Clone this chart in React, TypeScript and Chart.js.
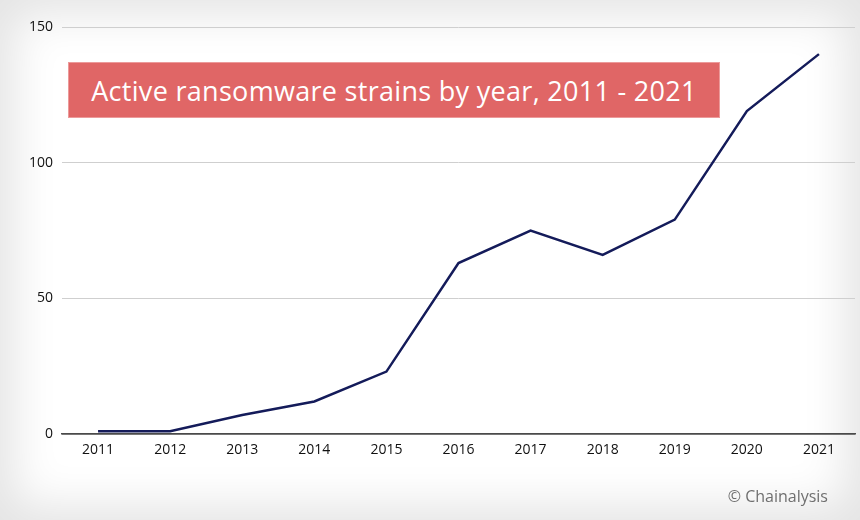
import React, { useEffect, useRef } from "react";
import { Chart, registerables } from "chart.js";

Chart.register(...registerables);

const years = ["2011", "2012", "2013", "2014", "2015", "2016", "2017", "2018", "2019", "2020", "2021"];
const activeStrains = [1, 1, 7, 12, 23, 63, 75, 66, 79, 119, 140];
const yTicks = [0, 50, 100, 150];
const titleText = "Active ransomware strains by year, 2011 - 2021";
const creditText = "© Chainalysis";

export default function App() {
  const canvasRef = useRef<HTMLCanvasElement | null>(null);

  useEffect(() => {
    document.body.style.margin = "0";
    const canvas = canvasRef.current;
    if (!canvas) return;
    const chart = new Chart(canvas, {
      type: "line",
      data: {
        labels: years,
        datasets: [
          {
            data: activeStrains,
            borderColor: "#141b5a",
            borderWidth: 2.5,
            pointRadius: 0,
            tension: 0,
            fill: false,
          },
        ],
      },
      options: {
        animation: false,
        responsive: false,
        maintainAspectRatio: false,
        layout: { padding: { top: 27, right: 5, left: 0, bottom: 0 } },
        plugins: { legend: { display: false }, tooltip: { enabled: false }, title: { display: false } },
        scales: {
          x: {
            offset: true,
            grid: { display: false, drawTicks: false },
            border: { display: true, color: "#4a4a4a", width: 1.5 },
            ticks: {
              color: "#111",
              font: { family: "'Open Sans', 'Noto Sans', sans-serif", size: 14 },
              padding: 8,
              maxRotation: 0,
            },
            afterFit: (scale: any) => {
              scale.height = 86;
            },
          },
          y: {
            min: 0,
            max: 150,
            afterBuildTicks: (scale: any) => {
              scale.ticks = yTicks.map((v) => ({ value: v }));
            },
            grid: {
              drawTicks: false,
              color: (ctx: any) => (ctx.tick && ctx.tick.value === 0 ? "#4a4a4a" : "#cfcfcf"),
              lineWidth: (ctx: any) => (ctx.tick && ctx.tick.value === 0 ? 1.5 : 1),
            },
            border: { display: false },
            ticks: {
              color: "#111",
              font: { family: "'Open Sans', 'Noto Sans', sans-serif", size: 14 },
              padding: 9,
            },
            afterFit: (scale: any) => {
              scale.width = 62;
            },
          },
        },
      },
    });
    return () => chart.destroy();
  }, []);

  return (
    <div
      style={{
        position: "relative",
        width: 860,
        height: 520,
        background: "#ffffff",
        boxShadow: "inset 0 0 45px 14px rgba(0,0,0,0.11)",
        overflow: "hidden",
      }}
    >
      <canvas ref={canvasRef} width={860} height={520} style={{ position: "absolute", left: 0, top: 0 }} />
      <div
        style={{
          position: "absolute",
          left: 68,
          top: 62,
          width: 652,
          height: 56,
          background: "#e06666",
          border: "1px solid #ec9a9a",
          boxSizing: "border-box",
          color: "#ffffff",
          fontFamily: "'Open Sans', 'Noto Sans', sans-serif",
          fontSize: 27,
          letterSpacing: 0.3,
          display: "flex",
          alignItems: "center",
          justifyContent: "center",
          whiteSpace: "nowrap",
        }}
      >
        {titleText}
      </div>
      <div
        style={{
          position: "absolute",
          right: 32,
          top: 485,
          color: "#6f6f6f",
          fontFamily: "'Open Sans', 'Noto Sans', sans-serif",
          fontSize: 16,
          whiteSpace: "nowrap",
        }}
      >
        {creditText}
      </div>
    </div>
  );
}
